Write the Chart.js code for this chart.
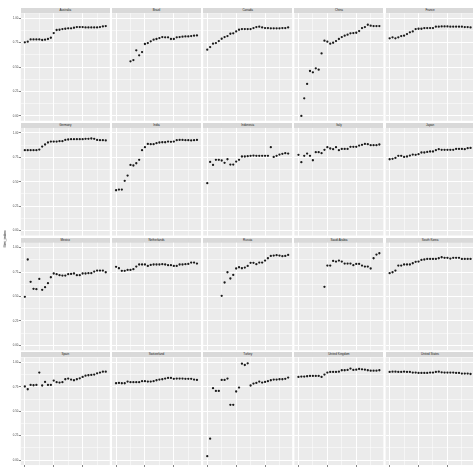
<!DOCTYPE html>
<html>
<head>
<meta charset="utf-8">
<script src="https://cdn.jsdelivr.net/npm/chart.js@4.4.0/dist/chart.umd.min.js"></script>
<style>
html,body{margin:0;padding:0;background:#ffffff;overflow:hidden;}
#wrap{position:relative;width:473px;height:467px;overflow:hidden;background:#ffffff;}
#wrap canvas{position:absolute;left:0;top:0;}
.strip{position:absolute;background:#D9D9D9;color:#1A1A1A;font-family:"Liberation Sans",Arial,sans-serif;font-size:3px;text-align:center;white-space:nowrap;overflow:hidden;}
.ytitle{position:absolute;font-family:"Liberation Sans",Arial,sans-serif;font-size:3.6px;color:#000;white-space:nowrap;transform:translate(-50%,-50%) rotate(-90deg);}
</style>
</head>
<body>
<div id="wrap"></div>
<script>
// ---- data ----
const YEARS = [1990,1991,1992,1993,1994,1995,1996,1997,1998,1999,2000,2001,2002,2003,2004,2005,2006,2007,2008,2009,2010,2011,2012,2013,2014,2015,2016,2017,2018];
const X_TICKS = [1990,1995,2000,2005,2010,2015];
const Y_TICKS = [0,0.125,0.25,0.375,0.5,0.625,0.75,0.875,1];
const COUNTRIES = ["Australia","Brazil","Canada","China","France","Germany","India","Indonesia","Italy","Japan","Mexico","Netherlands","Russia","Saudi Arabia","South Korea","Spain","Switzerland","Turkey","United Kingdom","United States"];
const Y_TITLE = "Gini_index";

const australia = [0.752,0.759,0.782,0.782,0.782,0.782,0.776,0.779,0.786,0.799,0.847,0.878,0.881,0.888,0.891,0.895,0.895,0.901,0.908,0.908,0.908,0.905,0.905,0.905,0.905,0.905,0.908,0.915,0.918];
const brazil = [null,null,null,null,null,0.558,0.571,0.670,0.619,0.653,0.735,0.745,0.762,0.779,0.786,0.796,0.806,0.803,0.803,0.786,0.786,0.803,0.806,0.810,0.813,0.813,0.816,0.820,0.823];
const canada = [0.677,0.704,0.738,0.745,0.765,0.789,0.806,0.816,0.840,0.844,0.864,0.881,0.888,0.888,0.888,0.888,0.898,0.908,0.912,0.905,0.898,0.898,0.895,0.895,0.895,0.895,0.898,0.898,0.905];
const china = [null,0.0,0.180,0.327,0.459,0.446,0.486,0.473,0.639,0.769,0.759,0.738,0.748,0.765,0.786,0.806,0.820,0.830,0.844,0.847,0.850,0.867,0.898,0.908,0.932,0.922,0.918,0.918,0.918];
const france = [0.793,0.803,0.793,0.803,0.816,0.820,0.837,0.854,0.864,0.888,0.891,0.891,0.898,0.898,0.898,0.898,0.912,0.912,0.915,0.915,0.915,0.912,0.912,0.912,0.912,0.912,0.908,0.908,0.905];
const germany = [0.823,0.823,0.823,0.823,0.823,0.829,0.860,0.881,0.901,0.911,0.911,0.911,0.915,0.915,0.928,0.932,0.935,0.935,0.935,0.935,0.935,0.939,0.939,0.942,0.939,0.928,0.925,0.925,0.922];
const india = [0.413,0.420,0.420,0.509,0.563,0.672,0.666,0.689,0.724,0.823,0.853,0.887,0.884,0.884,0.894,0.901,0.904,0.904,0.911,0.908,0.911,0.925,0.928,0.928,0.925,0.925,0.922,0.925,0.928];
const indonesia = [0.485,0.703,0.672,0.724,0.724,0.717,0.693,0.730,0.676,0.676,0.706,0.724,0.758,0.758,0.761,0.765,0.768,0.765,0.765,0.765,0.765,0.765,0.853,0.754,0.765,0.778,0.785,0.792,0.788];
const italy = [0.775,0.700,0.765,0.788,0.765,0.720,0.802,0.802,0.792,0.826,0.853,0.840,0.833,0.853,0.823,0.836,0.836,0.836,0.857,0.857,0.857,0.870,0.877,0.887,0.884,0.874,0.874,0.874,0.881];
const japan = [0.730,0.734,0.744,0.765,0.765,0.754,0.758,0.768,0.778,0.775,0.782,0.799,0.799,0.805,0.809,0.809,0.823,0.833,0.826,0.826,0.826,0.826,0.826,0.836,0.836,0.836,0.833,0.843,0.846];
const mexico = [0.497,0.878,0.650,0.578,0.575,0.680,0.568,0.595,0.636,0.697,0.735,0.728,0.718,0.714,0.714,0.728,0.731,0.735,0.718,0.718,0.735,0.735,0.738,0.738,0.755,0.765,0.765,0.765,0.748];
const netherlands = [0.803,0.789,0.762,0.762,0.772,0.772,0.779,0.806,0.827,0.827,0.827,0.813,0.823,0.827,0.827,0.827,0.830,0.827,0.820,0.820,0.813,0.813,0.827,0.827,0.830,0.833,0.847,0.847,0.837];
const russia = [null,null,null,null,null,0.507,0.643,0.748,0.684,0.721,0.786,0.799,0.789,0.796,0.813,0.844,0.844,0.830,0.847,0.847,0.867,0.891,0.915,0.918,0.922,0.918,0.912,0.915,0.925];
const saudiArabia = [null,null,null,null,null,null,null,null,null,0.599,0.816,0.816,0.864,0.857,0.867,0.857,0.837,0.837,0.837,0.820,0.833,0.833,0.816,0.806,0.806,0.786,0.891,0.929,0.942];
const southKorea = [0.738,0.748,0.765,0.816,0.816,0.827,0.827,0.827,0.840,0.854,0.857,0.874,0.878,0.884,0.884,0.884,0.884,0.891,0.901,0.895,0.895,0.888,0.895,0.895,0.895,0.884,0.884,0.884,0.884];
const spain = [0.753,0.725,0.769,0.766,0.769,0.895,0.763,0.800,0.769,0.769,0.814,0.797,0.793,0.797,0.827,0.834,0.824,0.817,0.827,0.837,0.851,0.864,0.868,0.871,0.875,0.888,0.895,0.905,0.905];
const switzerland = [0.786,0.790,0.786,0.786,0.803,0.797,0.797,0.797,0.797,0.807,0.807,0.803,0.803,0.807,0.817,0.824,0.827,0.834,0.841,0.841,0.831,0.834,0.834,0.834,0.831,0.831,0.831,0.824,0.820];
const turkey = [0.041,0.220,0.736,0.708,0.708,0.820,0.820,0.834,0.566,0.566,0.702,0.742,0.986,0.973,0.990,0.763,0.783,0.790,0.803,0.793,0.800,0.807,0.817,0.824,0.824,0.827,0.827,0.831,0.844];
const unitedKingdom = [0.851,0.854,0.854,0.858,0.861,0.861,0.861,0.861,0.851,0.875,0.895,0.902,0.902,0.902,0.905,0.919,0.919,0.922,0.936,0.922,0.925,0.932,0.929,0.925,0.919,0.915,0.915,0.915,0.919];
const unitedStates = [0.902,0.905,0.905,0.902,0.902,0.905,0.902,0.902,0.895,0.895,0.892,0.892,0.892,0.892,0.895,0.895,0.902,0.905,0.898,0.895,0.895,0.895,0.895,0.892,0.892,0.885,0.885,0.885,0.881];

const SERIES = [australia,brazil,canada,china,france,germany,india,indonesia,italy,japan,mexico,netherlands,russia,saudiArabia,southKorea,spain,switzerland,turkey,unitedKingdom,unitedStates];

// ---- layout ----
const CW = 480, CH = 472;
const NCOL = 5, NROW = 4;
const PW = 89, PH = 107.6, STRIP_H = 5.1;
const colLeft = c => 20.8 + 91.2 * c;
const panelTop = r => 13.2 + 114.75 * r;
const XAXIS_H = 6;

const wrap = document.getElementById('wrap');

const bgPlugin = {
  id: 'panelBg',
  beforeDraw(chart) {
    const a = chart.chartArea, ctx = chart.ctx;
    ctx.save();
    ctx.fillStyle = '#EBEBEB';
    ctx.fillRect(a.left, a.top, a.right - a.left, a.bottom - a.top);
    ctx.restore();
  }
};

const isMajorY = v => Math.abs(v * 4 - Math.round(v * 4)) < 1e-6;
const isMajorX = v => v % 10 === 0;
const FONT = {family: '"Liberation Sans", Arial, sans-serif', size: 2.8};

SERIES.forEach((vals, i) => {
  const r = Math.floor(i / NCOL), c = i % NCOL;
  const left = colLeft(c), top = panelTop(r);
  const leftEdge = c === 0, bottomEdge = r === NROW - 1;

  // strip
  const s = document.createElement('div');
  s.className = 'strip';
  s.style.left = left + 'px';
  s.style.top = (top - STRIP_H) + 'px';
  s.style.width = PW + 'px';
  s.style.height = STRIP_H + 'px';
  s.style.lineHeight = STRIP_H + 'px';
  s.textContent = COUNTRIES[i];
  wrap.appendChild(s);

  const cv = document.createElement('canvas');
  cv.width = CW; cv.height = CH;
  cv.style.width = CW + 'px'; cv.style.height = CH + 'px';
  wrap.appendChild(cv);

  const pts = [];
  YEARS.forEach((y, k) => { if (vals[k] !== null) pts.push({x: y, y: vals[k]}); });

  new Chart(cv.getContext('2d'), {
    type: 'scatter',
    data: {datasets: [{
      data: pts,
      pointRadius: 1.15,
      pointBackgroundColor: '#1A1A1A',
      pointBorderWidth: 0,
      showLine: false
    }]},
    options: {
      responsive: false,
      animation: false,
      devicePixelRatio: 1,
      layout: {padding: {
        left: leftEdge ? 0 : left,
        top: top,
        right: CW - (left + PW),
        bottom: bottomEdge ? CH - (top + PH) - XAXIS_H : CH - (top + PH)
      }},
      plugins: {legend: {display: false}, tooltip: {enabled: false}, title: {display: false}},
      scales: {
        x: {
          type: 'linear', min: 1988.6, max: 2019.4,
          afterBuildTicks: sc => { sc.ticks = X_TICKS.map(v => ({value: v})); },
          afterFit: sc => { sc.height = bottomEdge ? XAXIS_H : 0; },
          border: {display: false},
          grid: {
            color: '#FFFFFF',
            lineWidth: ctx => isMajorX(ctx.tick.value) ? 1 : 0.5,
            drawTicks: bottomEdge,
            tickLength: 2,
            tickWidth: 0.6,
            tickColor: ctx => isMajorX(ctx.tick.value) ? '#333333' : 'rgba(0,0,0,0)'
          },
          ticks: {
            display: bottomEdge, autoSkip: false, maxRotation: 0, padding: 0.5,
            color: '#4D4D4D', font: FONT,
            callback: v => isMajorX(v) ? String(v) : ''
          }
        },
        y: {
          type: 'linear', min: -0.05, max: 1.05,
          afterBuildTicks: sc => { sc.ticks = Y_TICKS.map(v => ({value: v})); },
          afterFit: sc => { sc.width = leftEdge ? left : 0; },
          border: {display: false},
          grid: {
            color: '#FFFFFF',
            lineWidth: ctx => isMajorY(ctx.tick.value) ? 1 : 0.5,
            drawTicks: leftEdge,
            tickLength: 2,
            tickWidth: 0.6,
            tickColor: ctx => isMajorY(ctx.tick.value) ? '#333333' : 'rgba(0,0,0,0)'
          },
          ticks: {
            display: leftEdge, autoSkip: false, padding: 0.5,
            color: '#4D4D4D', font: FONT,
            callback: v => isMajorY(v) ? v.toFixed(2) : ''
          }
        }
      }
    },
    plugins: [bgPlugin]
  });
});

// y axis title
const yt = document.createElement('div');
yt.className = 'ytitle';
yt.style.left = '4.6px';
yt.style.top = ((panelTop(0) + panelTop(NROW - 1) + PH) / 2) + 'px';
yt.textContent = Y_TITLE;
wrap.appendChild(yt);
</script>
</body>
</html>
